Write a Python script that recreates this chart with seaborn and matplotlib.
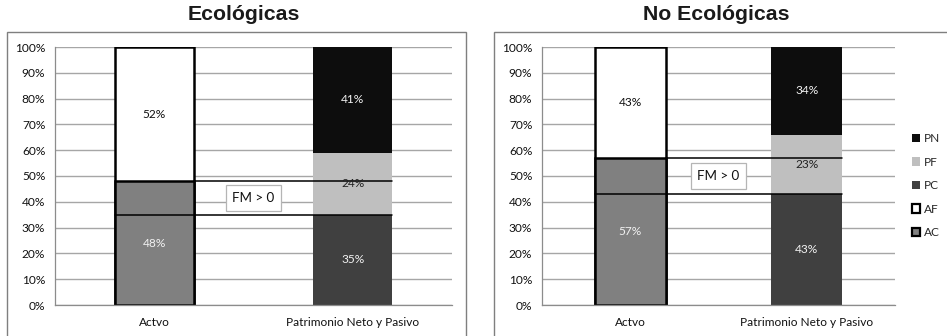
import matplotlib
matplotlib.use("Agg")
import matplotlib.pyplot as plt
import seaborn as sns
import pandas as pd
from matplotlib.patches import Patch, Rectangle

# Balance structure by group (percent of total)
categories = ["Actvo", "Patrimonio Neto y Pasivo"]
panel_titles = ["Ecológicas", "No Ecológicas"]

# Activo: corriente (AC) y fijo (AF)
ac = [48, 57]
af = [52, 43]
# Pasivo corriente (PC), pasivo fijo (PF), patrimonio neto (PN)
pc = [35, 43]
pf = [24, 23]
pn = [41, 34]

y_ticks = [0, 10, 20, 30, 40, 50, 60, 70, 80, 90, 100]
y_tick_labels = [f"{v}%" for v in y_ticks]
fm_label = "FM > 0"
legend_order = ["PN", "PF", "PC", "AF", "AC"]

colors = {"AC": "#808080", "AF": "#ffffff", "PC": "#404040",
          "PF": "#bfbfbf", "PN": "#0d0d0d"}
text_colors = {"AC": "#f2f2f2", "AF": "#111111", "PC": "#f2f2f2",
               "PF": "#222222", "PN": "#f2f2f2"}

sns.set_theme(style="white")
plt.rcParams["font.family"] = ["Lato", "DejaVu Sans"]

fig = plt.figure(figsize=(9.47, 3.36), dpi=100)
W, H = 947, 336

def fx(px):
    return px / W

def fy(py):
    return 1 - py / H

ax_specs = [
    (55, 452, 7, 466),    # plot left, plot right, frame left, frame right
    (542, 895, 494, 960),
]
BAR_W = 0.4
FS = 8.6

for i, (pl, pr, bl, br) in enumerate(ax_specs):
    # chart frame
    fig.patches.append(Rectangle((fx(bl), fy(345)), fx(br - bl), fy(32) - fy(345),
                                 transform=fig.transFigure, fill=False,
                                 edgecolor="#7f7f7f", linewidth=1.0))
    ax = fig.add_axes([fx(pl), fy(305), fx(pr - pl), fy(47) - fy(305)])
    ax.set_axisbelow(True)

    stacks = [
        (categories[0], [("AC", ac[i]), ("AF", af[i])], "black", 1.8),
        (categories[1], [("PC", pc[i]), ("PF", pf[i]), ("PN", pn[i])], "none", 0),
    ]
    for cat, segs, ec, lw in stacks:
        idx = categories.index(cat)
        tops = []
        acc = 0
        for name, val in segs:
            tops.append((name, acc, val))
            acc += val
        # draw tallest cumulative first so lower segments sit on top
        for name, bottom, val in reversed(tops):
            df = pd.DataFrame({"cat": [cat], "top": [bottom + val]})
            sns.barplot(data=df, x="cat", y="top", order=categories,
                        color=colors[name], saturation=1, width=BAR_W,
                        edgecolor=ec, linewidth=lw, errorbar=None, ax=ax)
        for name, bottom, val in tops:
            ax.text(idx, bottom + val / 2, f"{val}%", ha="center", va="center",
                    fontsize=FS, color=text_colors[name], zorder=7)

    # working-capital connector lines
    x_act_l = 0 - BAR_W / 2
    x_act_r = 0 + BAR_W / 2
    x_pas_r = 1 + BAR_W / 2
    ax.plot([x_act_r, x_pas_r], [ac[i], ac[i]], color="black", lw=1.1, zorder=4)
    ax.plot([x_act_l, x_pas_r], [pc[i], pc[i]], color="black", lw=1.1, zorder=4)
    ax.text(0.5, (ac[i] + pc[i]) / 2, fm_label, ha="center", va="center",
            fontsize=9.6, color="#111111", zorder=6,
            bbox=dict(boxstyle="square,pad=0.5", facecolor="white",
                      edgecolor="#b5b5b5", linewidth=0.9))

    ax.set_xlim(-0.5, 1.5)
    ax.set_ylim(0, 100)
    ax.set_yticks(y_ticks)
    ax.set_yticklabels(y_tick_labels)
    ax.set_xticks([0, 1])
    ax.set_xticklabels(categories)
    ax.set_xticks([-0.5, 0.5, 1.5], minor=True)
    ax.tick_params(axis="x", which="major", length=0, labelsize=FS, pad=9,
                   labelcolor="#111111")
    ax.tick_params(axis="x", which="minor", length=4, width=0.9,
                   color="#8c8c8c", direction="out")
    ax.tick_params(axis="y", length=4, width=0.9, color="#8c8c8c",
                   direction="out", labelsize=FS, pad=3, labelcolor="#111111")
    ax.set_xlabel("")
    ax.set_ylabel("")
    ax.yaxis.grid(True, color="#a6a6a6", linewidth=1.0)
    ax.xaxis.grid(False)
    for side in ["top", "right"]:
        ax.spines[side].set_visible(False)
    for side in ["left", "bottom"]:
        ax.spines[side].set_color("#8c8c8c")
        ax.spines[side].set_linewidth(0.9)

    title_x = [244, 716][i]
    fig.text(fx(title_x), fy(15), panel_titles[i], ha="center", va="center",
             fontsize=15.3, fontweight="bold", family="Liberation Sans",
             color="#1a1a1a")

# legend on the second chart
handles = []
for name in legend_order:
    if name in ("AF", "AC"):
        handles.append(Patch(facecolor=colors[name], edgecolor="black",
                             linewidth=1.6, label=name))
    else:
        handles.append(Patch(facecolor=colors[name], edgecolor="none", label=name))
fig.legend(handles=handles, loc="upper left",
           bbox_to_anchor=(fx(912), fy(133)), frameon=False, fontsize=FS,
           handlelength=0.7, handleheight=0.7, handletextpad=0.3,
           labelspacing=1.05, borderpad=0, borderaxespad=0)

fig.savefig("out.png", dpi=100)
